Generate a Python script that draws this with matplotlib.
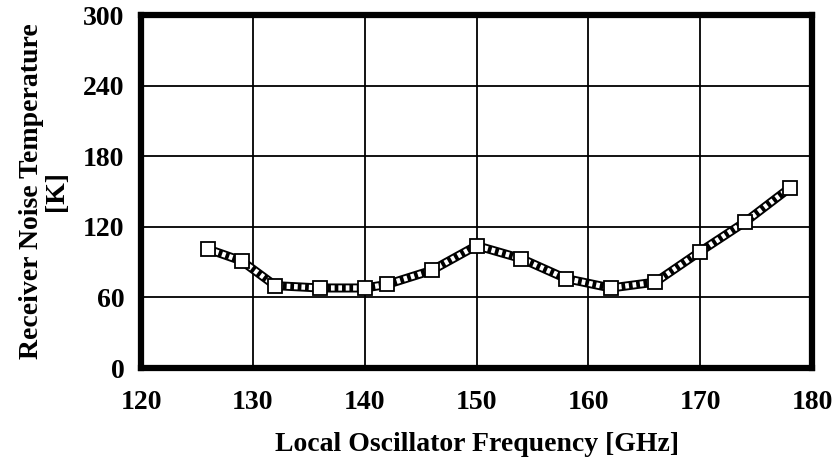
import matplotlib.pyplot as plt

# LO frequency [GHz] and receiver noise temperature [K]
freq_ghz = [126, 129, 132, 136, 140, 142, 146, 150, 154, 158, 162, 166, 170, 174, 178]
t_rx_k = [101, 91, 70, 68, 68, 71, 83, 104, 93, 76, 68, 73, 99, 124, 153]

x_ticks = [120, 130, 140, 150, 160, 170, 180]
y_ticks = [0, 60, 120, 180, 240, 300]

plt.rcParams['font.family'] = ['Liberation Serif', 'DejaVu Serif']
plt.rcParams['font.weight'] = 'bold'

fig = plt.figure(figsize=(8.33, 4.66), dpi=100)
ax = fig.add_axes([0.1693, 0.2103, 0.8055, 0.7575])

# hatched-looking thick line: black core with a white dotted pattern on top
ax.plot(freq_ghz, t_rx_k, color='black', lw=6.5, solid_capstyle='butt', zorder=3)
ax.plot(freq_ghz, t_rx_k, color='white', lw=3.8, linestyle=(0, (0.7, 0.7)), zorder=4)
ax.plot(freq_ghz, t_rx_k, linestyle='none', marker='s', ms=10,
        mfc='white', mec='black', mew=1.3, zorder=5)

ax.set_xlim(120, 180)
ax.set_ylim(0, 300)
ax.set_xticks(x_ticks)
ax.set_yticks(y_ticks)
ax.grid(True, color='black', lw=1.3)
ax.set_axisbelow(True)

for s in ax.spines.values():
    s.set_linewidth(4.5)

ax.tick_params(length=0, labelsize=20, pad=12)
ax.tick_params(axis='x', pad=16)
for lab in ax.get_xticklabels() + ax.get_yticklabels():
    lab.set_fontweight('bold')

ax.set_xlabel('Local Oscillator Frequency [GHz]', fontsize=20, fontweight='bold', labelpad=12)
ax.set_ylabel('Receiver Noise Temperature\n[K]', fontsize=20, fontweight='bold',
              labelpad=10, linespacing=1.0)

fig.savefig('out.png', dpi=100)
